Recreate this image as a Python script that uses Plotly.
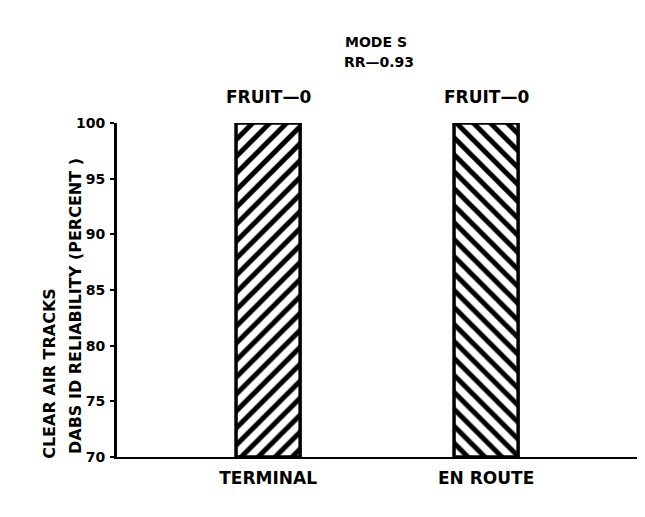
import plotly.graph_objects as go

categories = ["TERMINAL", "EN ROUTE"]
reliability = [100, 100]
bar_labels = ["FRUIT\u20140", "FRUIT\u20140"]
patterns = ["/", "\\"]
y_ticks = [70, 75, 80, 85, 90, 95, 100]
title_lines = ["MODE S", "RR\u20140.93"]
ytitle_lines = ["CLEAR AIR TRACKS", "DABS ID RELIABILITY (PERCENT )"]
Y_MIN = 70

FONT = "DejaVu Sans"

fig = go.Figure()
fig.add_trace(go.Bar(
    x=categories, y=[v - Y_MIN for v in reliability], base=Y_MIN, width=0.294,
    marker=dict(color="white", line=dict(color="black", width=3.5),
                pattern=dict(shape=patterns, fgcolor="black", bgcolor="white",
                             fgopacity=1, size=12, solidity=0.42)),
    cliponaxis=False,
))

for c, lab in zip(categories, bar_labels):
    fig.add_annotation(x=c, y=100, yref="y", text=f"<b>{lab}</b>", showarrow=False,
                       yanchor="middle", yshift=26,
                       font=dict(size=17, family=FONT, color="black"))

fig.add_annotation(x=0.5, xref="x domain", y=1, yref="paper", text=f"<b>{title_lines[0]}</b>",
                   showarrow=False, xanchor="center", yanchor="middle", yshift=81, xshift=-3,
                   font=dict(size=14, family=FONT, color="black"))
fig.add_annotation(x=0.5, xref="x domain", y=1, yref="paper", text=f"<b>{title_lines[1]}</b>",
                   showarrow=False, xanchor="center", yanchor="middle", yshift=61, xshift=0,
                   font=dict(size=14, family=FONT, color="black"))

# y axis title: two lines, bottom-aligned like the original
fig.add_annotation(x=0, xref="paper", y=0.249, yref="paper", text=f"<b>{ytitle_lines[0]}</b>",
                   showarrow=False, textangle=-90, xanchor="center", yanchor="middle", xshift=-67,
                   font=dict(size=16, family=FONT, color="black"))
fig.add_annotation(x=0, xref="paper", y=0.476, yref="paper", text=f"<b>{ytitle_lines[1]}</b>",
                   showarrow=False, textangle=-90, xanchor="center", yanchor="middle",
                   xshift=-42, yshift=-8,
                   font=dict(size=16, family=FONT, color="black"))

fig.update_layout(
    width=637, height=509,
    margin=dict(l=109, r=5, t=115, b=60),
    plot_bgcolor="white", paper_bgcolor="white",
    showlegend=False,
    font=dict(family=FONT, color="black"),
)
fig.update_xaxes(
    type="category", range=[-0.693, 1.706],
    tickvals=categories, ticktext=[f"<b>{c}</b>" for c in categories],
    showline=True, linecolor="black", linewidth=2,
    showgrid=False, ticks="", zeroline=False,
    tickfont=dict(size=17, family=FONT, color="black"),
    ticklabelstandoff=5,
)
fig.update_yaxes(
    range=[70, 100], tickvals=y_ticks,
    ticktext=[f"<b>{v}</b>" for v in y_ticks],
    showline=True, linecolor="black", linewidth=3,
    showgrid=False, zeroline=False,
    ticks="outside", ticklen=4, tickwidth=2, tickcolor="black",
    tickfont=dict(size=14, family=FONT, color="black"),
    ticklabelstandoff=2,
)

fig.write_html("out.html")
